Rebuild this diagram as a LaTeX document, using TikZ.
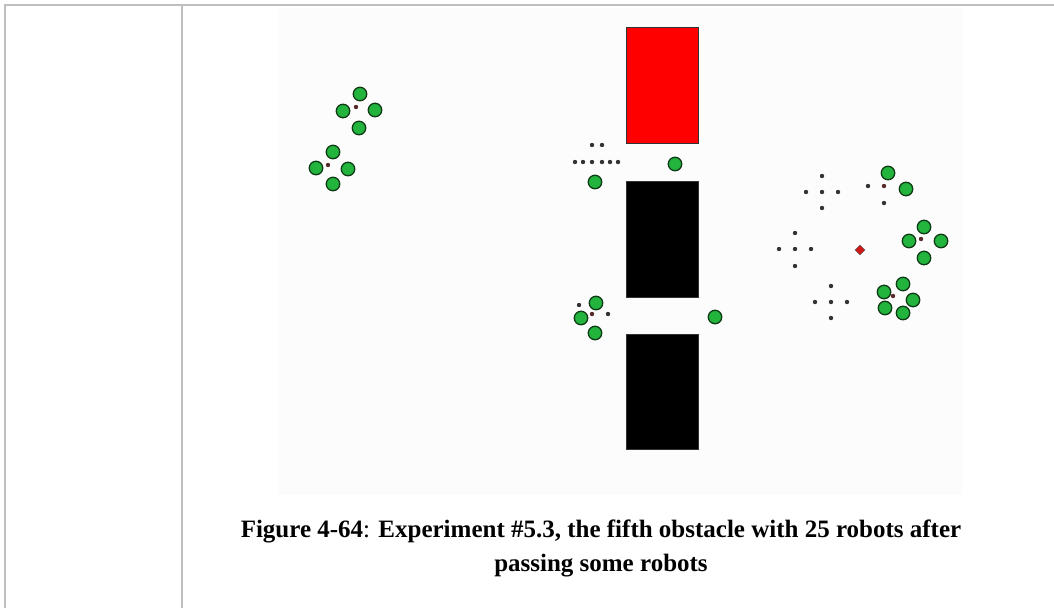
\documentclass[tikz,border=0pt]{standalone}
\usepackage{fontspec}
\setmainfont{Liberation Serif}
\usepackage{tikz}
\usetikzlibrary{positioning,shapes.geometric}
\definecolor{rule}{HTML}{BFBFBF}
\definecolor{field}{HTML}{FCFCFC}
\definecolor{robotgreen}{HTML}{22B43C}
\definecolor{robotedge}{HTML}{0F3A16}
\definecolor{goalred}{HTML}{D01818}
\definecolor{dotred}{HTML}{5A2A2A}
\tikzset{
  robot/.style={circle,draw=robotedge,fill=robotgreen,line width=1.3pt,
                minimum size=13.5pt,inner sep=0pt},
  spot/.style={circle,fill=black!80,minimum size=4.4pt,inner sep=0pt},
  hub/.style={circle,fill=dotred,minimum size=4.4pt,inner sep=0pt},
  goal/.style={diamond,draw=black!70,fill=goalred,minimum size=10pt,inner sep=0pt},
  obstacle/.style={draw=black!80,line width=0.8pt},
  caption/.style={font=\fontsize{25}{30}\selectfont\bfseries,align=center}
}
\begin{document}
\begin{tikzpicture}[x=1pt,y=-1pt]
  \useasboundingbox (0,0) rectangle (1054,608);
  % table rules
  \draw[rule,line width=1.6pt] (5,608) -- (5,5) -- (1054,5);
  \draw[rule,line width=1.6pt] (182,5) -- (182,608);
  % arena
  \fill[field] (278,8) rectangle (963,495);
  \filldraw[obstacle,fill=red] (626,27) rectangle (698,143);
  \filldraw[obstacle,fill=black] (626,181) rectangle (698,297);
  \filldraw[obstacle,fill=black] (626,334) rectangle (698,449);
  % empty target positions
  \foreach \x/\y [count=\i] in {592/145,602/145,575/162,583/162,592/162,602/162,610/162,618/162,
      579/305,608/314,822/176,806/192,822/192,838/192,822/208,868/186,884/203,
      795/233,779/249,795/249,811/249,795/266,831/286,815/302,831/302,847/302,831/318}
    \node[spot] (s\i) at (\x,\y) {};
  \foreach \x/\y [count=\i] in {356/107,328/165,592/314,884/186,921/239,893/296}
    \node[hub] (h\i) at (\x,\y) {};
  % robots
  \foreach \x/\y [count=\i] in {360/94,343/111,375/110,359/128,
      333/152,316/168,348/169,333/184,
      675/164,595/182,596/303,581/318,595/333,715/317,
      888/173,906/189,924/227,909/241,941/241,924/258,
      903/284,884/292,913/300,885/308,903/313}
    \node[robot] (r\i) at (\x,\y) {};
  \node[goal] (g) at (860,250) {};
  % caption
  \node[caption] (cap) at (601,548) {Figure 4-64{\mdseries:} Experiment \#5.3, the fifth obstacle with 25 robots after\\[4pt]passing some robots};
\end{tikzpicture}
\end{document}
